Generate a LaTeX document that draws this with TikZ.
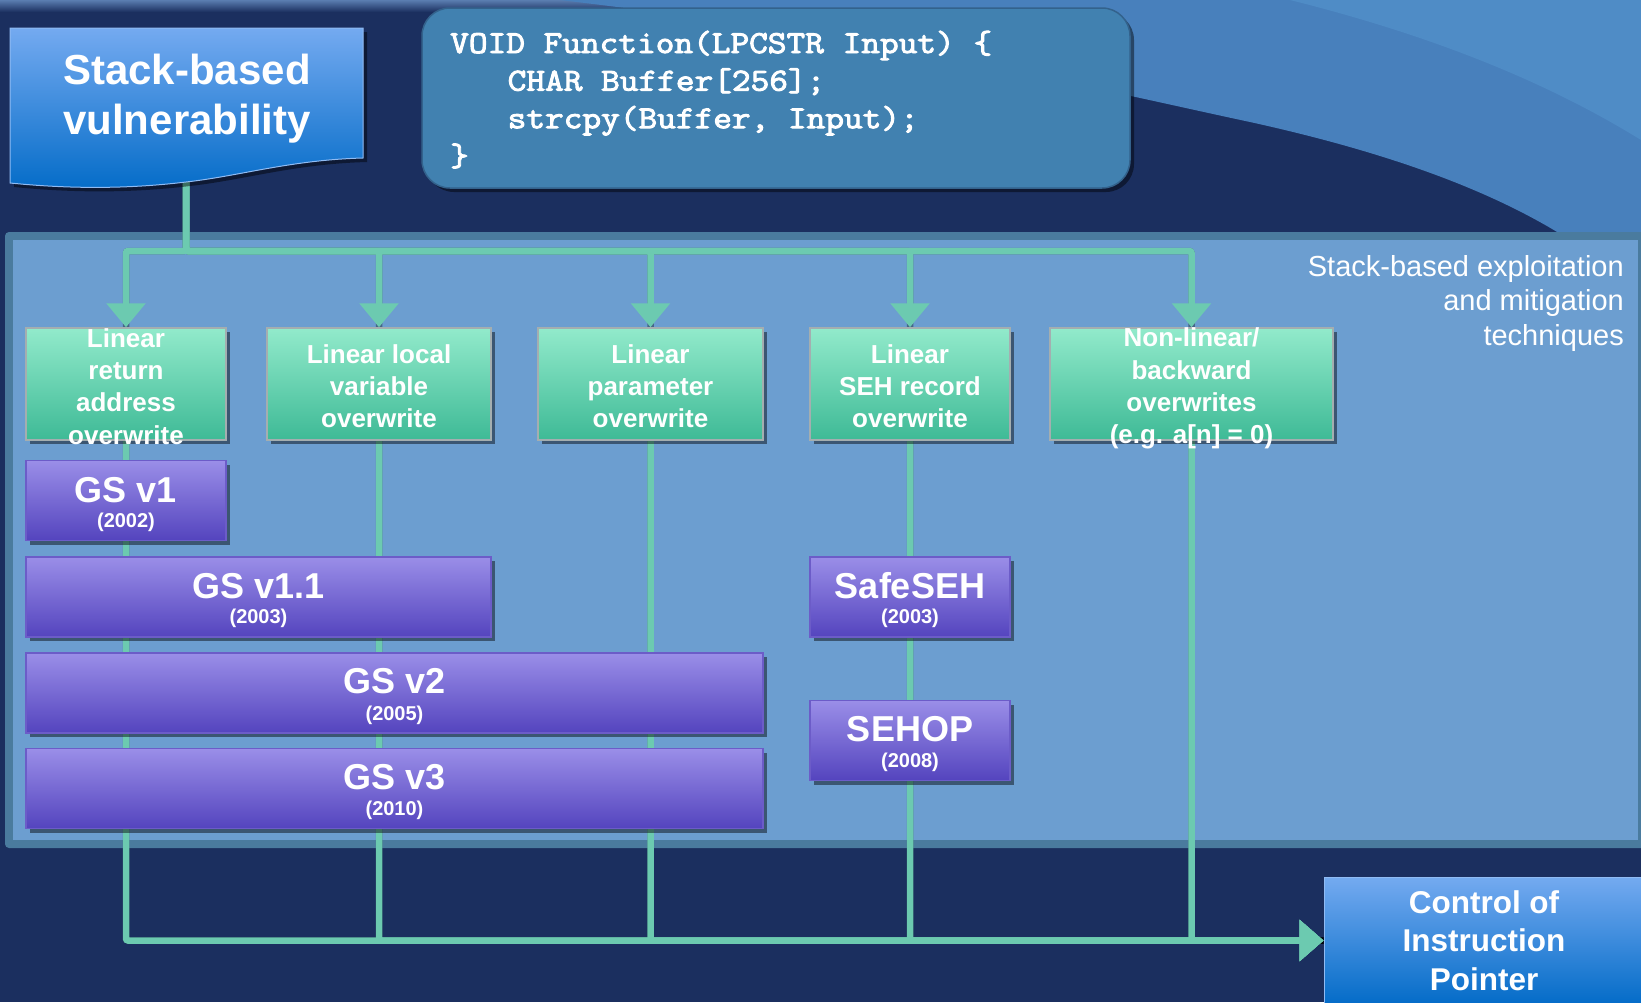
\documentclass[tikz,border=0pt]{standalone}
\usepackage{fontspec}
\setmainfont{Liberation Sans}
\newfontfamily\codefont[FakeBold=3,FakeStretch=1.134]{Latin Modern Mono}
\usetikzlibrary{arrows.meta,shadows}
\definecolor{navy}{HTML}{1B2F5F}
\definecolor{topband}{HTML}{5A7DB0}
\definecolor{waveA}{HTML}{4880BC}
\definecolor{waveB}{HTML}{4F8CC6}
\definecolor{panelborder}{HTML}{4A7B9E}
\definecolor{panelfill}{HTML}{6C9ED0}
\definecolor{mint}{HTML}{6CCAB0}
\definecolor{gtop}{HTML}{92EACB}
\definecolor{gbot}{HTML}{3EBA96}
\definecolor{gborder}{HTML}{A4AEB0}
\definecolor{ptop}{HTML}{9A8EE8}
\definecolor{pbot}{HTML}{5444BE}
\definecolor{pborder}{HTML}{6C5CC8}
\definecolor{btop}{HTML}{74AAF0}
\definecolor{bbot}{HTML}{046CC8}
\definecolor{codefill}{HTML}{4181B0}
\definecolor{codeborder}{HTML}{33628C}
\pgfdeclarelayer{back}
\pgfdeclarelayer{mid}
\pgfsetlayers{back,mid,main}
\begin{document}
\begin{tikzpicture}[x=1pt,y=-1pt,
  shad/.style={drop shadow={shadow xshift=4pt,shadow yshift=-4pt,opacity=0.45,fill=black}},
  conn/.style={line width=6.5pt,draw=mint,rounded corners=2pt},
  connshadow/.style={line width=6.5pt,draw=black,opacity=0.35,rounded corners=2pt},
  downtip/.style={-{Triangle[width=38pt,length=24pt]}},
  righttip/.style={-{Triangle[width=40pt,length=24pt]}},
  gbox/.style={draw=gborder,line width=1.5pt,top color=gtop,bottom color=gbot,
    minimum width=#1,minimum height=112pt,inner sep=0pt,shad},
  pbox/.style={draw=pborder,line width=1.5pt,top color=ptop,bottom color=pbot,
    minimum width=#1,minimum height=80pt,inner sep=0pt,shad},
  gtext/.style={text=white,align=center,inner sep=0pt,font=\bfseries\fontsize{26}{32.3}\selectfont},
  ptitle/.style={text=white,inner sep=0pt,font=\bfseries\fontsize{36}{40}\selectfont},
  pyear/.style={text=white,inner sep=0pt,font=\bfseries\fontsize{20}{24}\selectfont},
  codeline/.style={text=white,inner sep=0pt,anchor=base west,font=\codefont\fontsize{32}{37.6}\selectfont},
]
\useasboundingbox (0,0) rectangle (1641,1002);

% ---------- background ----------
\begin{pgfonlayer}{back}
\fill[navy] (0,0) rectangle (1641,1002);
\shade[top color=topband,bottom color=navy] (0,0) rectangle (1641,12);
\fill[waveA] (560,0) .. controls (900,40) and (1100,90) .. (1250,122)
  .. controls (1400,155) and (1500,195) .. (1570,240) -- (1641,240) -- (1641,0) -- cycle;
\fill[waveB] (1290,0) .. controls (1450,40) and (1560,90) .. (1641,140) -- (1641,0) -- cycle;
\fill[panelborder,rounded corners=4pt] (5,232) rectangle (1660,848);
\fill[panelfill] (13,240) rectangle (1638,840);
\end{pgfonlayer}

\node[text=white,align=right,anchor=north east,inner sep=0pt,
  font=\fontsize{29}{34.5}\selectfont] (ttl) at (1624,255)
  {Stack-based exploitation\\and mitigation\\techniques};

% ---------- top boxes ----------
\path[shad,top color=btop,bottom color=bbot,draw=btop!80!white,line width=1pt]
  (10,28) -- (363,28) -- (363,158) .. controls (290,160) and (240,176) .. (186,182)
  .. controls (120,190) and (60,188) .. (10,183) -- cycle;
\node[text=white,align=center,inner sep=0pt,font=\bfseries\fontsize{42}{50}\selectfont]
  (sv) at (187,99) {Stack-based\\vulnerability};
\coordinate (svb) at (186,178);
\coordinate (hub) at (186,251);

\node[shad,fill=codefill,draw=codeborder,line width=1.5pt,rounded corners=28pt,
  minimum width=708pt,minimum height=180pt] (code) at (776,98) {};
\node[codeline] (c1) at (450,53) {VOID Function(LPCSTR Input) \{};
\node[codeline] (c2) at (507.5,90.6) {CHAR Buffer[256];};
\node[codeline] (c3) at (507.5,128.2) {strcpy(Buffer, Input);};
\node[codeline] (c4) at (450,165.8) {\}};

% ---------- exploitation boxes ----------
\node[gbox=200pt] (b1) at (126,384) {};
\node[gbox=224pt] (b2) at (379,384) {};
\node[gbox=225pt] (b3) at (650.5,384) {};
\node[gbox=200pt] (b4) at (910,384) {};
\node[gbox=283pt] (b5) at (1191.5,384) {};
\node[gtext] (t1) at (126,386.5) {Linear\\return\\address\\overwrite};
\node[gtext] (t2) at (379,386) {Linear local\\variable\\overwrite};
\node[gtext] (t3) at (650.5,386) {Linear\\parameter\\overwrite};
\node[gtext] (t4) at (910,386) {Linear\\SEH record\\overwrite};
\node[gtext] (t5) at (1191.5,388.5) {Non-linear/\\backward\\overwrites\\(e.g. a[n] = 0)};

% ---------- mitigation boxes ----------
\node[pbox=200pt] (gs1) at (126,500.5) {};
\node[ptitle] (gs1t) at (126,490) {GS v1};
\node[pyear] (gs1y) at (126,522) {(2002)};
\node[pbox=465pt] (gs11) at (258.5,597) {};
\node[ptitle] (gs11t) at (258.5,586) {GS v1.1};
\node[pyear] (gs11y) at (258.5,618.5) {(2003)};
\node[pbox=737pt] (gs2) at (394.5,693) {};
\node[ptitle] (gs2t) at (394.5,681.5) {GS v2};
\node[pyear] (gs2y) at (394.5,715) {(2005)};
\node[pbox=737pt] (gs3) at (394.5,788.5) {};
\node[ptitle] (gs3t) at (394.5,777.5) {GS v3};
\node[pyear] (gs3y) at (394.5,810) {(2010)};
\node[pbox=200pt] (sseh) at (910,597) {};
\node[ptitle] (ssehT) at (910,586) {SafeSEH};
\node[pyear] (ssehY) at (910,618.5) {(2003)};
\node[pbox=200pt] (sehop) at (910,740.5) {};
\node[ptitle] (sehopT) at (910,729.5) {SEHOP};
\node[pyear] (sehopY) at (910,762) {(2008)};

% ---------- result box ----------
\node[shad,top color=btop,bottom color=bbot,draw=btop!80!white,line width=1pt,
  minimum width=320pt,minimum height=127pt,inner sep=0pt,text=white,align=center,
  font=\bfseries\fontsize{31.5}{38.5}\selectfont] (ctrl) at (1484,940.5)
  {Control of\\Instruction\\Pointer};

% ---------- connectors ----------
\begin{pgfonlayer}{mid}
\begin{scope}[xshift=3pt,yshift=-4pt]
\foreach \b in {b1,b2,b3,b4,b5}{
  \draw[connshadow] (svb) -- (hub) -| (\b.north);
  \draw[connshadow] (\b.south) |- (ctrl.west);
}
\end{scope}
\foreach \b in {b1,b2,b3,b4,b5}{
  \draw[conn,downtip] (svb) -- (hub) -| (\b.north);
  \draw[conn,righttip] (\b.south) |- (ctrl.west);
}
\end{pgfonlayer}
\end{tikzpicture}
\end{document}
